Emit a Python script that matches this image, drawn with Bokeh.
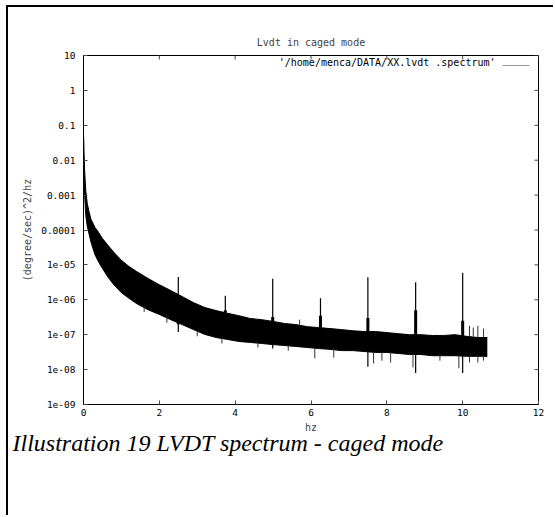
from math import pi
from bokeh.plotting import figure
from bokeh.models import (FixedTicker, BoxAnnotation, Label, Title, ColumnDataSource, Range1d)
from bokeh.embed import file_html
from bokeh.resources import INLINE

# ---- data ----
freq_env = [0.0, 0.01, 0.03, 0.06, 0.1, 0.15, 0.2, 0.3, 0.4, 0.5, 0.65, 0.8, 1.0, 1.2,
            1.4, 1.7, 2.0, 2.3, 2.6, 2.9, 3.2, 3.5, 3.8, 4.1, 4.4, 4.7, 5.0, 5.3, 5.6,
            5.9, 6.2, 6.5, 6.8, 7.1, 7.4, 7.7, 8.0, 8.3, 8.6, 8.9, 9.2, 9.5, 9.8, 10.1,
            10.4, 10.65]
psd_upper = [0.058, 0.019, 5e-3, 1.35e-3, 5.7e-4, 3.2e-4, 2e-4, 1.2e-4, 8.5e-5, 5.7e-5,
             3.6e-5, 2.3e-5, 1.35e-5, 9e-6, 6.5e-6, 4.1e-6, 2.7e-6, 1.85e-6, 1.24e-6,
             8.3e-7, 6e-7, 4.9e-7, 4.1e-7, 3.5e-7, 2.9e-7, 2.7e-7, 2.4e-7, 2.1e-7, 1.95e-7,
             1.7e-7, 1.6e-7, 1.5e-7, 1.4e-7, 1.3e-7, 1.23e-7, 1.23e-7, 1.15e-7, 1.07e-7,
             1.0e-7, 1.0e-7, 9.5e-8, 9.5e-8, 1.0e-7, 9e-8, 8.3e-8, 8.3e-8]
psd_lower = [0.058, 7e-3, 1e-3, 2.6e-4, 1.26e-4, 7.4e-5, 4.4e-5, 2e-5, 1.2e-5, 7.9e-6,
             4.4e-6, 2.7e-6, 1.6e-6, 1.1e-6, 7.8e-7, 5.2e-7, 3.8e-7, 2.7e-7, 1.95e-7,
             1.4e-7, 1.02e-7, 8.3e-8, 7.3e-8, 6.4e-8, 6e-8, 5.6e-8, 5.2e-8, 4.9e-8, 4.6e-8,
             4.3e-8, 4e-8, 3.8e-8, 3.5e-8, 3.5e-8, 3.3e-8, 3.1e-8, 3.1e-8, 2.9e-8, 2.7e-8,
             2.7e-8, 2.5e-8, 2.5e-8, 2.5e-8, 2.4e-8, 2.4e-8, 2.4e-8]

peak_f = [2.5, 3.74, 4.99, 6.25, 7.5, 8.76, 10.0]
peak_top = [4.5e-6, 1.3e-6, 4e-6, 1.1e-6, 4.4e-6, 3.2e-6, 6e-6]
peak_bottom = [1.2e-7, 1.0e-7, 4e-8, 4.5e-8, 1.2e-8, 8e-9, 8e-9]
shoulder_top = [6e-7, 5e-7, 3.2e-7, 3.5e-7, 3e-7, 5e-7, 2.5e-7]
shoulder_bottom = [2e-7, 1e-7, 6e-8, 5e-8, 4e-8, 3e-8, 3e-8]

whisker_f = [3.65, 4.6, 5.4, 6.1, 6.6, 7.65, 7.87, 8.1, 8.69, 9.4, 9.9, 10.18, 10.4, 10.55,
             10.18, 10.28, 10.4, 10.55, 5.7, 3.0, 2.2, 1.6]
whisker_from = [8e-8, 6e-8, 5e-8, 4.2e-8, 4e-8, 3.3e-8, 3.2e-8, 3.1e-8, 2.8e-8, 2.6e-8,
                2.6e-8, 2.5e-8, 2.5e-8, 2.5e-8, 9e-8, 9e-8, 8.5e-8, 8.5e-8, 1.9e-7,
                1.3e-7, 3.2e-7, 6.5e-7]
whisker_to = [5.6e-8, 4.3e-8, 3.5e-8, 2.1e-8, 2.2e-8, 1.5e-8, 1.8e-8, 1.6e-8, 1.15e-8,
              1.8e-8, 1.1e-8, 1.6e-8, 1.6e-8, 1.8e-8, 1.8e-7, 1.6e-7, 1.8e-7, 1.5e-7,
              2.7e-7, 9e-8, 2.2e-7, 4.5e-7]

x_ticks = [0, 2, 4, 6, 8, 10, 12]
x_tick_labels = ["0", "2", "4", "6", "8", "10", "12"]
y_ticks = [1e-9, 1e-8, 1e-7, 1e-6, 1e-5, 1e-4, 1e-3, 1e-2, 1e-1, 1, 10]
y_tick_labels = ["1e-09", "1e-08", "1e-07", "1e-06", "1e-05", "0.0001", "0.001",
                 "0.01", "0.1", "1", "10"]

title_text = "Lvdt in caged mode"
x_label = "hz"
y_label = "(degree/sec)^2/hz"
legend_text = "'/home/menca/DATA/XX.lvdt .spectrum'"
caption_text = "Illustration 19 LVDT spectrum - caged mode"

MONO = "DejaVu Sans Mono"
X_MIN, X_MAX = 0, 12
Y_MIN, Y_MAX = 1e-9, 10

# page decoration: document rules on the left and top of the figure element
OFF_X, OFF_Y = 8, 7
page_styles = {
    "margin-left": "6px",
    "margin-top": "5px",
    "border-left": "2px solid #000000",
    "border-top": "2px solid #000000",
}

p = figure(width=555 - OFF_X, height=517 - OFF_Y, x_range=Range1d(X_MIN, X_MAX),
           y_range=Range1d(Y_MIN, Y_MAX),
           y_axis_type="log", output_backend="svg", toolbar_location=None,
           min_border_left=83 - OFF_X, min_border_right=17, min_border_top=55 - OFF_Y,
           min_border_bottom=113, styles=page_styles)
p.background_fill_color = "white"
p.border_fill_color = "white"
p.outline_line_color = "black"
p.xgrid.visible = False
p.ygrid.visible = False

# title
p.title.text = title_text
p.title.align = "center"
p.title.text_font = MONO
p.title.text_font_size = "10px"
p.title.text_font_style = "normal"
p.title.standoff = 16

def style_axis(ax):
    ax.axis_line_color = "black"
    ax.major_tick_in = 4
    ax.major_tick_out = 0
    ax.major_tick_line_color = "#444444"
    ax.minor_tick_line_color = None
    ax.major_label_text_font = MONO
    ax.major_label_text_font_size = "9.5px"
    ax.major_label_text_color = "black"
    ax.axis_label_text_font = MONO
    ax.axis_label_text_font_size = "10px"
    ax.axis_label_text_font_style = "normal"

xa = p.xaxis[0]
xa.ticker = FixedTicker(ticks=x_ticks)
xa.major_label_overrides = {t: s for t, s in zip(x_ticks, x_tick_labels)}
xa.axis_label = x_label
style_axis(xa)
xa.major_label_standoff = 4
xa.axis_label_standoff = 3

ya = p.yaxis[0]
ya.ticker = FixedTicker(ticks=y_ticks)
ya.major_label_overrides = {t: s for t, s in zip(y_ticks, y_tick_labels)}
ya.axis_label = y_label
style_axis(ya)
ya.major_label_standoff = 8
ya.axis_label_standoff = 5

# mirrored inward ticks on top and right (half of each dash is clipped by the frame)
p.scatter(x=x_ticks, y=[Y_MAX] * len(x_ticks), marker="dash", size=8, angle=pi / 2,
          line_color="#444444", line_width=1)
p.scatter(x=[X_MAX] * len(y_ticks), y=y_ticks, marker="dash", size=8,
          line_color="#444444", line_width=1)

# data
env = ColumnDataSource(dict(f=freq_env, hi=psd_upper, lo=psd_lower))
p.varea(x="f", y1="lo", y2="hi", source=env, fill_color="black")
p.line(x="f", y="hi", source=env, line_color="black", line_width=1)
p.line(x="f", y="lo", source=env, line_color="black", line_width=1)

wsk = ColumnDataSource(dict(f=whisker_f, a=whisker_from, b=whisker_to))
p.segment(x0="f", y0="a", x1="f", y1="b", source=wsk, line_color="#333333", line_width=1)

pk = ColumnDataSource(dict(f=peak_f, t=peak_top, b=peak_bottom, st=shoulder_top,
                           sb=shoulder_bottom))
p.segment(x0="f", y0="b", x1="f", y1="t", source=pk, line_color="black", line_width=1.2)
p.segment(x0="f", y0="sb", x1="f", y1="st", source=pk, line_color="black", line_width=3)

# legend (gnuplot style: text then line sample)
p.add_layout(Label(x=412, y=342, x_units="screen", y_units="screen", text=legend_text,
                   text_font=MONO, text_font_size="10px", text_align="right",
                   text_baseline="middle", text_color="black"))
p.add_layout(BoxAnnotation(left=500 - OFF_X, right=527 - OFF_X, top=63 - OFF_Y,
                           bottom=63 - OFF_Y,
                           left_units="canvas", right_units="canvas",
                           top_units="canvas", bottom_units="canvas",
                           fill_color=None, line_color="#333333", line_width=1))

# caption
cap = Title(text=caption_text, align="left", text_font="Liberation Serif",
            text_font_style="italic", text_font_size="24px", text_color="black",
            offset=-71, standoff=-16)
p.add_layout(cap, "below")

html = file_html(p, INLINE)
html = html.replace("<body>", '<body style="margin:0; overflow:hidden;">', 1)
open("out.html", "w").write(html)
